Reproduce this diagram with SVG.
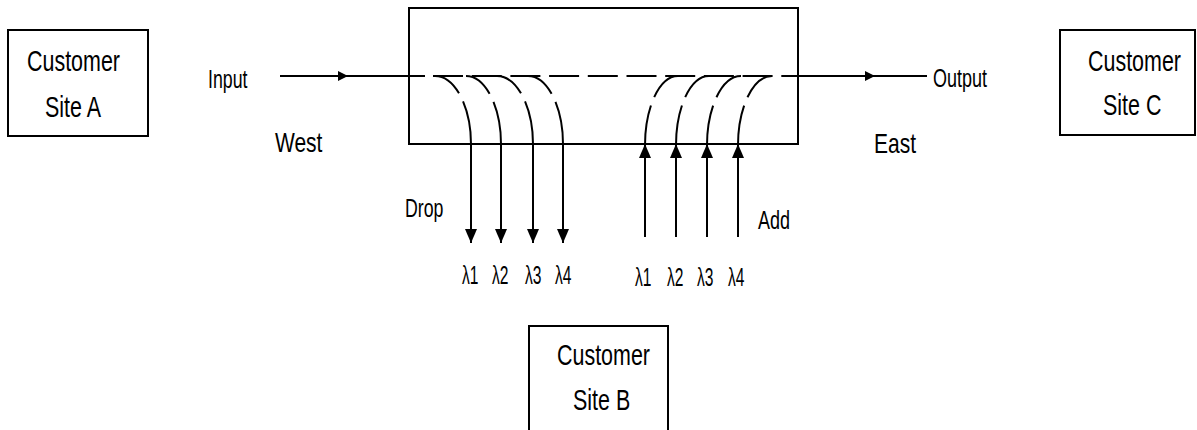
<svg xmlns="http://www.w3.org/2000/svg" width="1197" height="430" viewBox="0 0 1197 430">
<style>
.box{fill:#fff;stroke:#000;stroke-width:2}
.ln{fill:none;stroke:#000;stroke-width:2}
.t{font-family:"Liberation Sans",Arial,sans-serif;fill:#000}
.big{font-size:29px}
.mid{font-size:28px}
.sm{font-size:25px}
.lam{font-size:26px}
</style>
<defs>
<marker id="ah" markerWidth="14" markerHeight="12" refX="14" refY="6" orient="auto" markerUnits="userSpaceOnUse"><path d="M0,0 L14,6 L0,12 z" fill="#000"/></marker>
<marker id="ahs" markerWidth="10" markerHeight="10" refX="10" refY="5" orient="auto" markerUnits="userSpaceOnUse"><path d="M0,0 L10,5 L0,10 z" fill="#000"/></marker>
</defs>
<rect width="1197" height="430" fill="#fff"/>
<g id="siteA">
<rect class="box" x="8" y="30" width="140" height="106"/>
<text class="t big" transform="translate(27,71) scale(0.74,1)">Customer</text>
<text class="t big" transform="translate(45,117) scale(0.74,1)">Site A</text>
</g>
<g id="siteC">
<rect class="box" x="1060" y="30" width="135" height="105"/>
<text class="t big" transform="translate(1088,71) scale(0.74,1)">Customer</text>
<text class="t big" transform="translate(1103,115) scale(0.74,1)">Site C</text>
</g>
<g id="siteB">
<rect class="box" x="529" y="326" width="139" height="120"/>
<text class="t big" transform="translate(557,365) scale(0.74,1)">Customer</text>
<text class="t big" transform="translate(573,410) scale(0.74,1)">Site B</text>
</g>
<g id="oadm">
<rect class="box" x="409" y="8" width="389" height="136"/>
</g>
<g id="labels">
<text class="t sm" transform="translate(208,88) scale(0.71,1)">Input</text>
<text class="t sm" transform="translate(933,87) scale(0.72,1)">Output</text>
<text class="t mid" transform="translate(275,152) scale(0.75,1)">West</text>
<text class="t mid" transform="translate(874,153) scale(0.75,1)">East</text>
<text class="t sm" transform="translate(405,217) scale(0.71,1)">Drop</text>
<text class="t sm" transform="translate(758,229) scale(0.72,1)">Add</text>
<text class="t lam" transform="translate(462,284) scale(0.6,1)">λ1</text>
<text class="t lam" transform="translate(492,284) scale(0.6,1)">λ2</text>
<text class="t lam" transform="translate(525,284) scale(0.6,1)">λ3</text>
<text class="t lam" transform="translate(555,284) scale(0.6,1)">λ4</text>
<text class="t lam" transform="translate(635,286) scale(0.6,1)">λ1</text>
<text class="t lam" transform="translate(667,286) scale(0.6,1)">λ2</text>
<text class="t lam" transform="translate(697,286) scale(0.6,1)">λ3</text>
<text class="t lam" transform="translate(728,286) scale(0.6,1)">λ4</text>
</g>
<g id="connectors">
<line class="ln" x1="280" y1="76" x2="348" y2="76" marker-end="url(#ahs)"/>
<line class="ln" x1="348" y1="76" x2="425" y2="76"/>
<line class="ln" x1="433" y1="76" x2="782" y2="76" stroke-dasharray="30 8.7"/>
<line class="ln" x1="782" y1="76" x2="875" y2="76" marker-end="url(#ahs)"/>
<line class="ln" x1="875" y1="76" x2="927" y2="76"/>
<path class="ln" d="M435,76 A36,68 0 0 1 471,144" stroke-dasharray="31 9 200 0"/>
<path class="ln" d="M466,76 A35,68 0 0 1 501,144" stroke-dasharray="31 9 200 0"/>
<path class="ln" d="M497,76 A36,68 0 0 1 533,144" stroke-dasharray="31 9 200 0"/>
<path class="ln" d="M528,76 A35,68 0 0 1 563,144" stroke-dasharray="31 9 200 0"/>
<line class="ln" x1="471" y1="143" x2="471" y2="243" marker-end="url(#ah)"/>
<line class="ln" x1="501" y1="143" x2="501" y2="243" marker-end="url(#ah)"/>
<line class="ln" x1="533" y1="143" x2="533" y2="243" marker-end="url(#ah)"/>
<line class="ln" x1="563" y1="143" x2="563" y2="243" marker-end="url(#ah)"/>
<path class="ln" d="M645,145 A33,69 0 0 1 678,76" stroke-dasharray="40 9 200 0"/>
<path class="ln" d="M676,145 A33,69 0 0 1 709,76" stroke-dasharray="40 9 200 0"/>
<path class="ln" d="M707,145 A34,69 0 0 1 741,76" stroke-dasharray="40 9 200 0"/>
<path class="ln" d="M738,145 A34,69 0 0 1 772,76" stroke-dasharray="40 9 200 0"/>
<line class="ln" x1="645" y1="237" x2="645" y2="144" marker-end="url(#ah)"/>
<line class="ln" x1="676" y1="237" x2="676" y2="144" marker-end="url(#ah)"/>
<line class="ln" x1="707" y1="237" x2="707" y2="144" marker-end="url(#ah)"/>
<line class="ln" x1="738" y1="237" x2="738" y2="144" marker-end="url(#ah)"/>
</g>
</svg>
